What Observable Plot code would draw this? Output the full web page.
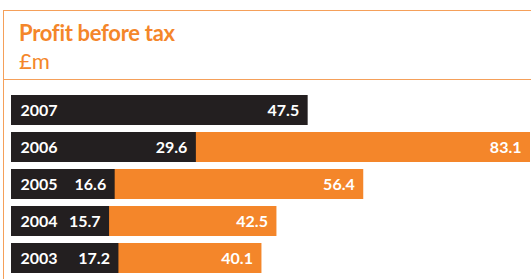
<!DOCTYPE html>
<html>
<head>
<meta charset="utf-8">
<script src="https://cdn.jsdelivr.net/npm/d3@7"></script>
<script src="https://cdn.jsdelivr.net/npm/@observablehq/plot@0.6"></script>
<style>
  html, body { margin: 0; padding: 0; background: #fff; }
  #wrap { position: relative; width: 531px; height: 279px; overflow: hidden; }
  #frame { position: absolute; left: 3px; top: 10px; width: 540px; height: 280px;
           border-left: 1px solid #F5A05A; border-top: 1px solid #F5A05A; }
  #head { position: absolute; left: 3px; top: 10px; width: 540px; height: 69px;
          border-bottom: 1px solid #F5A05A; }
  #title { position: absolute; left: 19px; top: 22px; font-family: Lato, sans-serif;
           font-weight: 700; font-size: 22px; color: #F4862A; letter-spacing: -0.3px; line-height: 1; }
  #sub { position: absolute; left: 19px; top: 50px; font-family: Lato, sans-serif;
         font-weight: 400; font-size: 22px; color: #F4862A; line-height: 1; }
  #chart { position: absolute; left: 0; top: 80px; }
</style>
</head>
<body>
<div id="wrap">
  <div id="frame"></div>
  <div id="head"></div>
  <div id="title">Profit before tax</div>
  <div id="sub">£m</div>
  <div id="chart"></div>
</div>
<script>
const years = ["2007", "2006", "2005", "2004", "2003"];
const firstValues = [47.5, 29.6, 16.6, 15.7, 17.2];
const totalValues = [null, 83.1, 56.4, 42.5, 40.1];

const rows = years.map((y, i) => ({year: y, first: firstValues[i], total: totalValues[i]}));
const totals = rows.filter(d => d.total != null);

const dark = "#231F20";
const orange = "#F4862A";
const font = "Lato, sans-serif";

const chart = Plot.plot({
  width: 531,
  height: 199,
  marginLeft: 11,
  marginRight: 1,
  marginTop: 13,
  marginBottom: 4,
  x: {domain: [0, 83.1], axis: null},
  y: {domain: years, axis: null, paddingInner: 0.179, paddingOuter: 0},
  style: {fontFamily: font, background: "transparent"},
  marks: [
    Plot.barX(totals, {x1: 0, x2: "total", y: "year", fill: orange}),
    Plot.barX(rows, {x1: 0, x2: "first", y: "year", fill: dark}),
    Plot.text(rows, {x: 0, y: "year", text: "year", textAnchor: "start", dx: 9, fill: "white",
      fontSize: 16, fontWeight: 700, fontFamily: font}),
    Plot.text(rows, {x: "first", y: "year", text: d => d.first.toFixed(1), textAnchor: "end", dx: -9,
      fill: "white", fontSize: 16, fontWeight: 700, fontFamily: font}),
    Plot.text(totals, {x: "total", y: "year", text: d => d.total.toFixed(1), textAnchor: "end", dx: -9,
      fill: "white", fontSize: 16, fontWeight: 700, fontFamily: font})
  ]
});
document.getElementById("chart").appendChild(chart);
</script>
</body>
</html>
